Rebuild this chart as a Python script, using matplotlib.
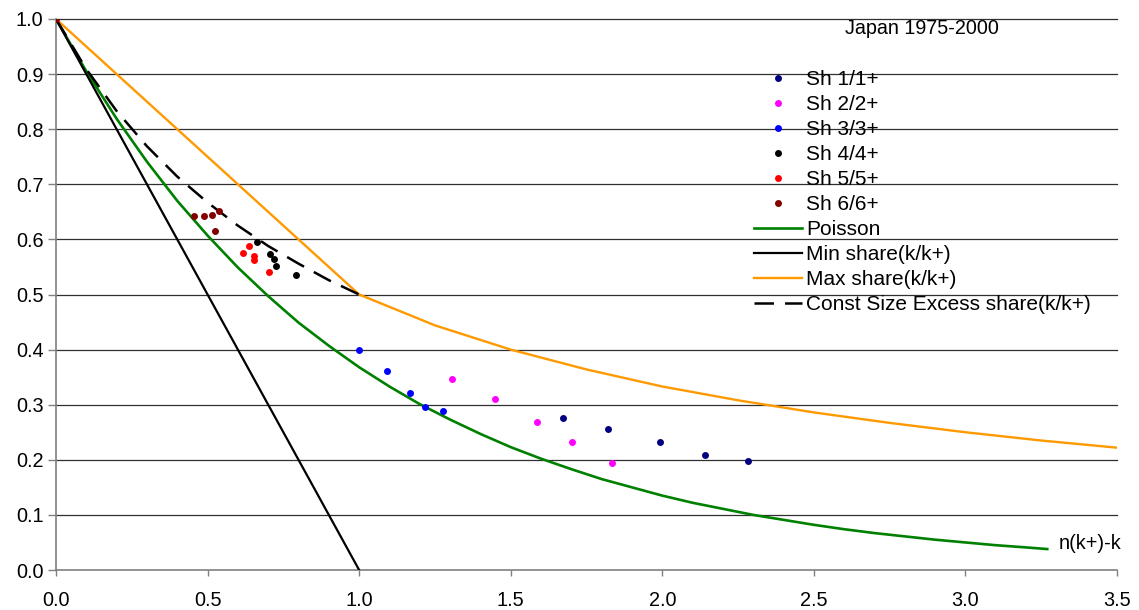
import matplotlib
matplotlib.use("Agg")
import matplotlib.pyplot as plt

plt.rcParams['font.family'] = ['Liberation Sans', 'DejaVu Sans']
plt.rcParams['lines.scale_dashes'] = False

# share series, x = n(k+)-k, y = share(k/k+)
sh1_x = [1.671, 1.822, 1.992, 2.142, 2.282]
sh1_y = [0.276, 0.256, 0.232, 0.209, 0.197]
sh2_x = [1.307, 1.447, 1.588, 1.703, 1.834]
sh2_y = [0.347, 0.310, 0.269, 0.233, 0.195]
sh3_x = [1.001, 1.093, 1.167, 1.217, 1.276]
sh3_y = [0.399, 0.361, 0.322, 0.296, 0.288]
sh4_x = [0.662, 0.707, 0.720, 0.726, 0.791]
sh4_y = [0.596, 0.573, 0.565, 0.552, 0.535]
sh5_x = [0.636, 0.618, 0.654, 0.652, 0.701]
sh5_y = [0.588, 0.576, 0.570, 0.562, 0.541]
sh6_x = [0.0, 0.454, 0.487, 0.516, 0.539, 0.524]
sh6_y = [1.0, 0.642, 0.642, 0.645, 0.652, 0.616]

poisson_x = [0.0, 0.1, 0.2, 0.3, 0.4, 0.5, 0.6, 0.7, 0.8, 0.9, 1.0, 1.1, 1.2,
             1.3, 1.4, 1.5, 1.6, 1.7, 1.8, 1.9, 2.0, 2.1, 2.2, 2.3, 2.4, 2.5,
             2.6, 2.7, 2.8, 2.9, 3.0, 3.1, 3.2, 3.27]
poisson_y = [1.0, 0.905, 0.819, 0.741, 0.670, 0.607, 0.549, 0.497, 0.449,
             0.407, 0.368, 0.333, 0.301, 0.273, 0.247, 0.223, 0.202, 0.183,
             0.165, 0.150, 0.135, 0.122, 0.111, 0.100, 0.091, 0.082, 0.074,
             0.067, 0.061, 0.055, 0.050, 0.045, 0.041, 0.038]

min_x = [0.0, 1.0]
min_y = [1.0, 0.0]

max_x = [0.0, 1.0, 1.25, 1.5, 1.75, 2.0, 2.25, 2.5, 2.75, 3.0, 3.25, 3.5]
max_y = [1.0, 0.5, 0.444, 0.400, 0.364, 0.333, 0.308, 0.286, 0.267, 0.250,
         0.235, 0.222]

const_x = [0.0, 0.1, 0.2, 0.3, 0.4, 0.5, 0.6, 0.7, 0.8, 0.9, 1.0]
const_y = [1.0, 0.909, 0.833, 0.769, 0.714, 0.667, 0.625, 0.588, 0.556,
           0.526, 0.5]

x_ticks = [0.0, 0.5, 1.0, 1.5, 2.0, 2.5, 3.0, 3.5]
y_ticks = [0.0, 0.1, 0.2, 0.3, 0.4, 0.5, 0.6, 0.7, 0.8, 0.9, 1.0]

W, H = 1139, 610
fig = plt.figure(figsize=(W / 100, H / 100), dpi=100)
ax = fig.add_axes([56 / W, (H - 570) / H, (1117 - 56) / W, (570 - 19) / H])

ms = 5
ax.plot(sh1_x, sh1_y, 'o', color='#000080', ms=ms, mew=0, label='Sh 1/1+', zorder=5)
ax.plot(sh2_x, sh2_y, 'o', color='#FF00FF', ms=ms, mew=0, label='Sh 2/2+', zorder=5)
ax.plot(sh3_x, sh3_y, 'o', color='#0000FF', ms=ms, mew=0, label='Sh 3/3+', zorder=5)
ax.plot(sh4_x, sh4_y, 'o', color='#000000', ms=ms, mew=0, label='Sh 4/4+', zorder=5)
ax.plot(sh5_x, sh5_y, 'o', color='#FF0000', ms=ms, mew=0, label='Sh 5/5+', zorder=5)
ax.plot(sh6_x, sh6_y, 'o', color='#800000', ms=ms, mew=0, label='Sh 6/6+', zorder=5)

ax.plot(poisson_x, poisson_y, color='#008000', lw=1.9, label='Poisson', zorder=3)
ax.plot(min_x, min_y, color='#000000', lw=1.6, label='Min share(k/k+)', zorder=3)
ax.plot(max_x, max_y, color='#FF9900', lw=1.7, label='Max share(k/k+)', zorder=3)
ax.plot(const_x, const_y, color='#000000', lw=1.8, dashes=(14, 8),
        label='Const Size Excess share(k/k+)', zorder=3)

ax.set_xlim(0, 3.5)
ax.set_ylim(0, 1.0)
ax.set_xticks(x_ticks)
ax.set_yticks(y_ticks)
ax.set_xticklabels(['%.1f' % v for v in x_ticks])
ax.set_yticklabels(['%.1f' % v for v in y_ticks])
ax.tick_params(axis='x', direction='out', length=4, width=1, color='#808080',
               pad=11, labelsize=14.3)
ax.tick_params(axis='y', direction='out', length=6, width=1, color='#808080',
               pad=3, labelsize=14.3)

for s in ['top', 'right']:
    ax.spines[s].set_visible(False)
for s in ['left', 'bottom']:
    ax.spines[s].set_color('#808080')
    ax.spines[s].set_linewidth(1.2)

for v in y_ticks[1:]:
    ax.axhline(v, color='#303030', lw=0.9, zorder=1, clip_on=False)

ax.text(3.307, 0.049, 'n(k+)-k', fontsize=14.3, va='center', ha='left')

fig.text(922 / W, 1 - 29 / H, 'Japan 1975-2000', fontsize=14.2,
         ha='center', va='center')

ax.legend(loc='upper left', bbox_to_anchor=(754 / W, 1 - 70 / H),
          bbox_transform=fig.transFigure, frameon=False, fontsize=15,
          handlelength=2.3, handletextpad=0.2, labelspacing=0.29,
          borderpad=0, borderaxespad=0, numpoints=1)

fig.savefig('out.png', dpi=100)
